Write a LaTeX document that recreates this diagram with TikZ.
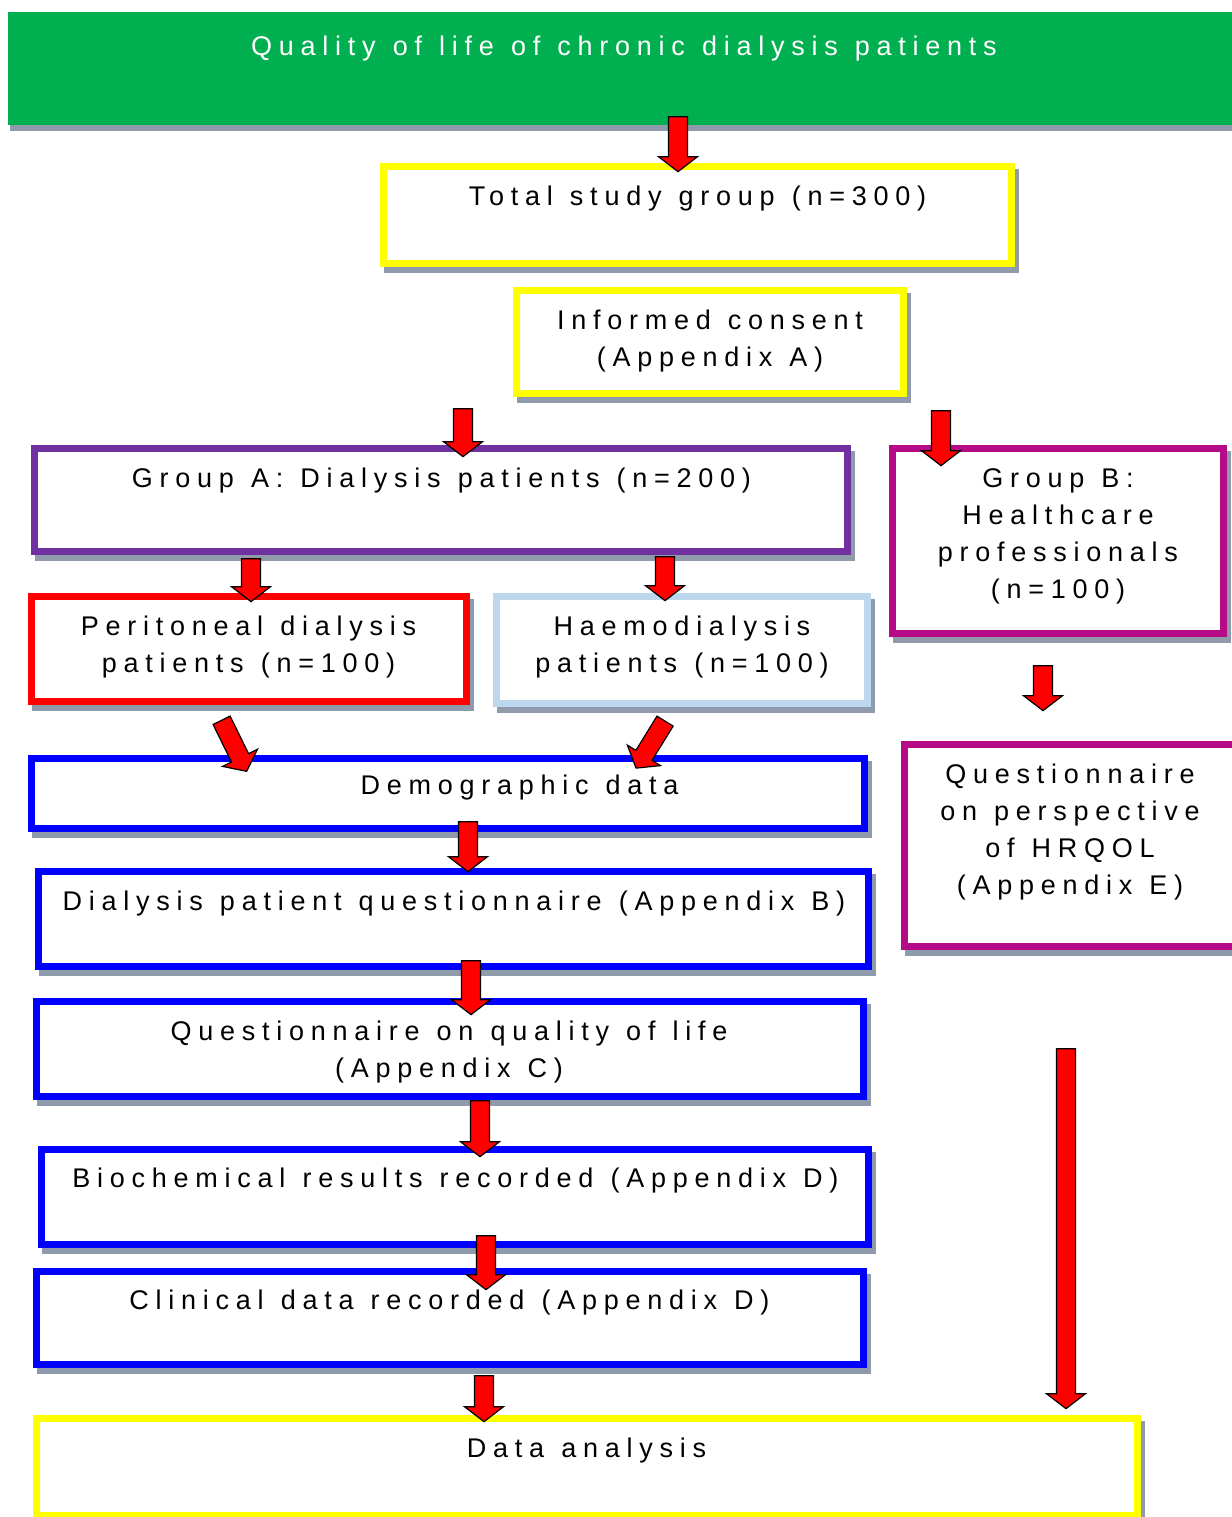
\documentclass[tikz,border=0pt]{standalone}
\usepackage{fontspec}
\setmainfont{Liberation Sans}[LetterSpace=25, WordSpace=1.2]
\usepackage{tikz}
\usetikzlibrary{arrows.meta, positioning, shapes.arrows, shadows, calc}
\definecolor{titlegreen}{HTML}{00B050}
\definecolor{boxyellow}{HTML}{FFFF00}
\definecolor{boxpurple}{HTML}{7030A0}
\definecolor{boxmagenta}{HTML}{B50B86}
\definecolor{boxlightblue}{HTML}{BDD7EE}
\definecolor{shadowgray}{HTML}{8F9AAA}

\tikzset{
  flowbox/.style 2 args={draw, line width=3.3pt, fill=white, inner sep=0pt,
    minimum width={#1*0.5pt-3.3pt}, minimum height={#2*0.5pt-3.3pt},
    drop shadow={shadow xshift=2pt, shadow yshift=-3pt, fill=shadowgray,
      draw=shadowgray, line width=3.3pt, opacity=1}},
  lbl/.style={font=\fontsize{13.5}{18.5}\selectfont, align=center, anchor=north, inner sep=0pt},
  redarrow/.style={single arrow, draw=black, fill=red, line width=0.6pt,
    inner xsep=0pt, inner ysep=4.45pt, single arrow head extend=5pt,
    single arrow tip angle=105}
}
% block arrow: name, tail, tip
\newcommand\blockarrow[3]{%
  \path let \p1=#2, \p2=#3, \n1={veclen(\x2-\x1,\y2-\y1)}, \n2={atan2(\y2-\y1,\x2-\x1)} in
    node[redarrow, minimum height=\n1, rotate=\n2] (#1) at ($#2!0.5!#3$) {};}

\begin{document}
\begin{tikzpicture}[x=0.5pt, y=-0.5pt]
\useasboundingbox (0,0) rectangle (1232,1517);

% title bar
\node[fill=titlegreen, minimum width=616pt, minimum height=56.5pt, inner sep=0pt,
  drop shadow={shadow xshift=1pt, shadow yshift=-3pt, fill=shadowgray, opacity=1}] (title) at (624,68.5) {};
\node[lbl, text=white] (titlelbl) at (624,36) {Quality of life of chronic dialysis patients};

% boxes
\node[flowbox={635}{104}, draw=boxyellow] (total) at (697.5,215) {};
\node[flowbox={394}{110}, draw=boxyellow] (consent) at (710,342) {};
\node[flowbox={820}{110}, draw=boxpurple] (groupa) at (441,500) {};
\node[flowbox={338}{192}, draw=boxmagenta] (groupb) at (1058,541) {};
\node[flowbox={442}{112}, draw=red] (peritoneal) at (249,649) {};
\node[flowbox={378}{114}, draw=boxlightblue] (haemo) at (682,650) {};
\node[flowbox={339}{209}, draw=boxmagenta] (hrqol) at (1070.5,845.5) {};
\node[flowbox={840}{77}, draw=blue] (demog) at (448,793.5) {};
\node[flowbox={837}{102}, draw=blue] (patientq) at (453.5,919) {};
\node[flowbox={834}{102}, draw=blue] (qol) at (450,1049) {};
\node[flowbox={834}{102}, draw=blue] (biochem) at (455,1197) {};
\node[flowbox={834}{100}, draw=blue] (clinical) at (450,1318) {};
\node[flowbox={1108}{104}, draw=boxyellow] (analysis) at (587,1467) {};

% texts
\node[lbl] (totallbl) at (697.5,186) {Total study group (n=300)};
\node[lbl] (consentlbl) at (710,310) {Informed consent\\(Appendix A)};
\node[lbl] (groupalbl) at (441.5,468) {Group A: Dialysis patients (n=200)};
\node[lbl] (groupblbl) at (1058,468) {Group B:\\Healthcare\\professionals\\(n=100)};
\node[lbl] (peritoneallbl) at (248.5,616) {Peritoneal dialysis\\patients (n=100)};
\node[lbl] (haemolbl) at (682,616) {Haemodialysis\\patients (n=100)};
\node[lbl] (hrqollbl) at (1070,764) {Questionnaire\\on perspective\\of HRQOL\\(Appendix E)};
\node[lbl] (demoglbl) at (519.5,775) {Demographic data};
\node[lbl] (patientqlbl) at (454,891) {Dialysis patient questionnaire (Appendix B)};
\node[lbl] (qollbl) at (449,1021) {Questionnaire on quality of life\\(Appendix C)};
\node[lbl] (biochemlbl) at (455.5,1168) {Biochemical results recorded (Appendix D)};
\node[lbl] (clinicallbl) at (449.5,1290) {Clinical data recorded (Appendix D)};
\node[lbl] (analysislbl) at (586.5,1438) {Data analysis};

% arrows
\blockarrow{a1}{(678,113)}{(678,168)}
\blockarrow{a2}{(463,405)}{(463,453)}
\blockarrow{a3}{(941,407)}{(941,462)}
\blockarrow{a4}{(251,555)}{(251,598)}
\blockarrow{a5}{(665,553)}{(665,597)}
\blockarrow{a6}{(220,717)}{(245,768)}
\blockarrow{a7}{(667,718)}{(638,765)}
\blockarrow{a8}{(468,818)}{(468,868)}
\blockarrow{a9}{(1043,662)}{(1043,707)}
\blockarrow{a10}{(471,957)}{(471,1011)}
\blockarrow{a11}{(480,1097)}{(480,1153)}
\blockarrow{a12}{(486,1232)}{(486,1286)}
\blockarrow{a13}{(484,1372)}{(484,1418)}
\blockarrow{a14}{(1066,1045)}{(1066,1405)}
\end{tikzpicture}
\end{document}
